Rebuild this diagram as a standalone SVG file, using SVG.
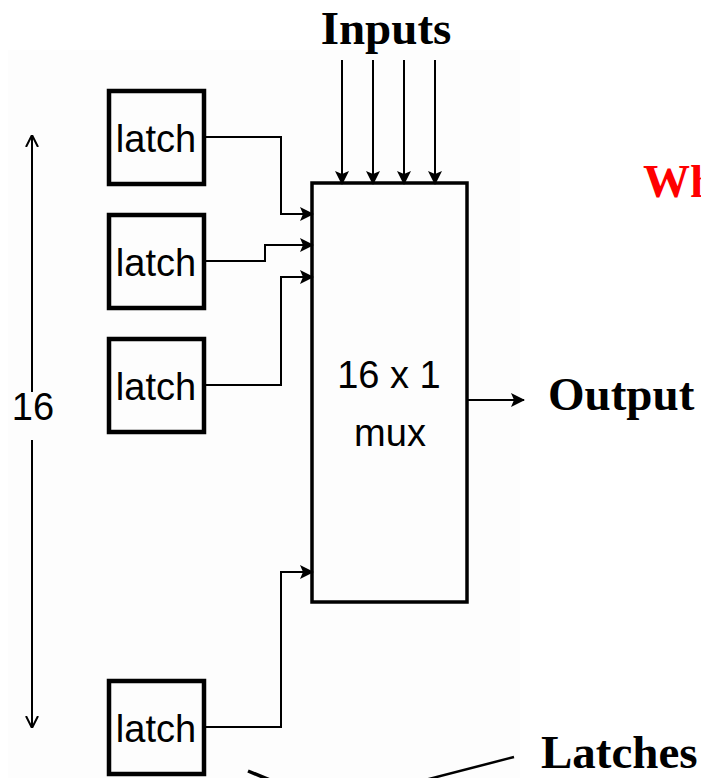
<svg xmlns="http://www.w3.org/2000/svg" width="701" height="778" viewBox="0 0 701 778">
<defs>
<style>
.box{fill:none;stroke:#000;stroke-width:4.5}
.mux{fill:none;stroke:#000;stroke-width:3.5}
.wire{fill:none;stroke:#000;stroke-width:2}
.lbl{font-family:"Liberation Sans",Arial,sans-serif;font-size:38px;fill:#000;text-anchor:middle}
.big{font-family:"Liberation Serif","Times New Roman",serif;font-size:47px;font-weight:bold;fill:#000}
</style>
<marker id="arr" viewBox="0 0 14 14" refX="13" refY="7" markerWidth="14" markerHeight="14" markerUnits="userSpaceOnUse" orient="auto">
<path d="M0,0 L14,7 L0,14 L3,7 Z" fill="#000"/>
</marker>
<marker id="open" viewBox="0 0 12 20" refX="12" refY="10" markerWidth="12" markerHeight="20" markerUnits="userSpaceOnUse" orient="auto">
<path d="M0,4 L12,10 L0,16" fill="none" stroke="#000" stroke-width="2"/>
</marker>
</defs>
<rect x="0" y="0" width="701" height="778" fill="#fff"/>
<rect x="8" y="50" width="512" height="728" fill="#fdfdfd"/>

<g id="connectors">
<line class="wire" x1="342" y1="60" x2="342" y2="184" marker-end="url(#arr)"/>
<line class="wire" x1="373" y1="60" x2="373" y2="184" marker-end="url(#arr)"/>
<line class="wire" x1="404" y1="60" x2="404" y2="184" marker-end="url(#arr)"/>
<line class="wire" x1="435" y1="60" x2="435" y2="184" marker-end="url(#arr)"/>
<polyline class="wire" points="204,137 281,137 281,214 313,214" marker-end="url(#arr)"/>
<polyline class="wire" points="204,261 265,261 265,245 313,245" marker-end="url(#arr)"/>
<polyline class="wire" points="204,385 281,385 281,277 313,277" marker-end="url(#arr)"/>
<polyline class="wire" points="204,727 281,727 281,572 313,572" marker-end="url(#arr)"/>
<line class="wire" x1="467" y1="400" x2="524" y2="400" marker-end="url(#arr)"/>
<line class="wire" x1="32" y1="392" x2="32" y2="135" marker-end="url(#open)"/>
<line class="wire" x1="32" y1="440" x2="32" y2="728" marker-end="url(#open)"/>
<line x1="514" y1="757" x2="425" y2="780" stroke="#000" stroke-width="2.5"/>
<line x1="248" y1="771" x2="270" y2="780" stroke="#000" stroke-width="3.5"/>
</g>

<g id="latch1"><rect class="box" x="109" y="91" width="95" height="93"/><text class="lbl" x="156" y="152">latch</text></g>
<g id="latch2"><rect class="box" x="109" y="215" width="95" height="93"/><text class="lbl" x="156" y="276">latch</text></g>
<g id="latch3"><rect class="box" x="109" y="339" width="95" height="93"/><text class="lbl" x="156" y="400">latch</text></g>
<g id="latch4"><rect class="box" x="109" y="681" width="95" height="93"/><text class="lbl" x="156" y="742">latch</text></g>

<g id="mux"><rect class="mux" x="312" y="183" width="155" height="419"/>
<text class="lbl" x="389" y="388">16 x 1</text>
<text class="lbl" x="390" y="446">mux</text></g>

<g id="labels">
<text class="big" x="386" y="44" text-anchor="middle">Inputs</text>
<text class="big" x="548" y="410">Output</text>
<text class="big" x="541" y="768">Latches</text>
<text class="big" x="643" y="197" style="fill:#ff0000">Wh</text>
<text class="lbl" x="33" y="420">16</text>
</g>
</svg>
